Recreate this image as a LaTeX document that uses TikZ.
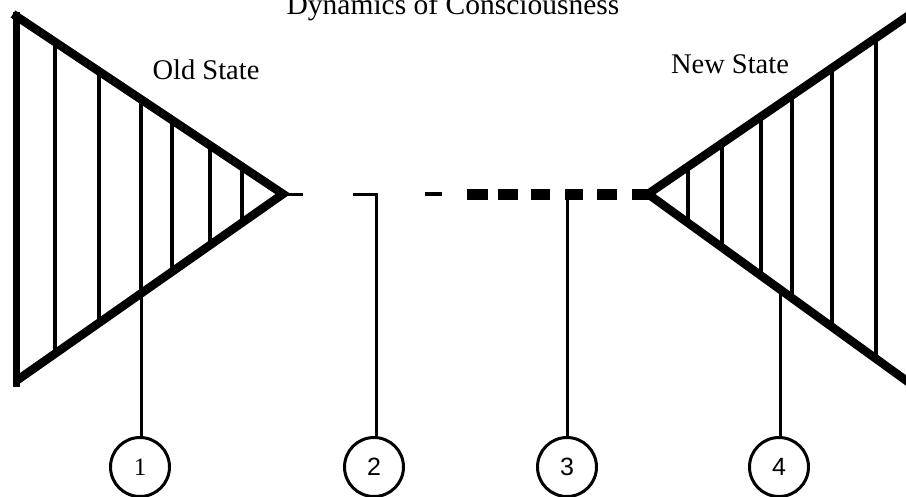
\documentclass[tikz,border=0pt]{standalone}
\usepackage{fontspec}
\setmainfont{Liberation Serif}
\newfontfamily\numfont{Liberation Sans}
\begin{document}
\begin{tikzpicture}[x=1pt,y=-1pt,
  edge/.style={line width=8.5pt,line join=miter},
  hatch/.style={line width=3.5pt},
  lead/.style={line width=3pt},
  thindash/.style={line width=3pt},
  blockdash/.style={line width=11pt},
  marker/.style={circle,draw,line width=3pt,minimum size=59pt,inner sep=0pt,font=\numfont\fontsize{25}{25}\selectfont},
  label/.style={font=\fontsize{28.5}{30}\selectfont,inner sep=0pt,anchor=base}]
\useasboundingbox (0,0) rectangle (906,496);

% title and state labels
\node[label,font=\fontsize{29.5}{30}\selectfont] (title) at (453,14) {Dynamics of Consciousness};
\node[label] (old) at (206,79) {Old State};
\node[label] (new) at (730,73) {New State};

% old state: narrowing wedge
\coordinate (oa) at (283,194);
\draw[line width=7pt] (16,12) -- (16,387);
\draw[edge] (13,14) -- (oa) -- (16,381);
\foreach \x in {55,99,141,172,210,242}{
  \pgfmathsetmacro{\yt}{15+(\x-16)*0.6667}
  \pgfmathsetmacro{\yb}{379-(\x-16)*0.6929}
  \draw[hatch] (\x,\yt) -- (\x,\yb);
}

% new state: widening wedge
\coordinate (na) at (648,194);
\draw[edge] (940,-6) -- (na) -- (940,405);
\foreach \x in {688,722,761,792,832,876}{
  \pgfmathsetmacro{\yt}{194-(\x-648)*0.686}
  \pgfmathsetmacro{\yb}{194+(\x-648)*0.729}
  \draw[hatch] (\x,\yt) -- (\x,\yb);
}

% transition between states
\draw[thindash] (oa) -- (303,194);
\draw[thindash,line width=4pt] (425,194) -- (442,194);
\foreach \a/\b in {467/488,498/518,531/550,565/583,597/617,632/650}
  \draw[blockdash] (\a,194) -- (\b,194);

% numbered markers
\node[marker] (c1) at (140,467) {\fontspec{Liberation Serif}1};
\node[marker] (c2) at (374,467) {2};
\node[marker] (c3) at (567,467) {3};
\node[marker] (c4) at (779,467) {4};

\coordinate (p1) at (141,250);
\coordinate (p2a) at (353,194);
\coordinate (p2) at (376,194);
\coordinate (p3) at (567,194);
\coordinate (p4) at (780,290);

\draw[lead] (p1) -- (p1 |- c1.north);
\draw[lead,line join=miter] (p2a) -- (p2) -- (p2 |- c2.north);
\draw[lead] (p3) -- (c3.north);
\draw[lead] (p4) -- (p4 |- c4.north);
\end{tikzpicture}
\end{document}
